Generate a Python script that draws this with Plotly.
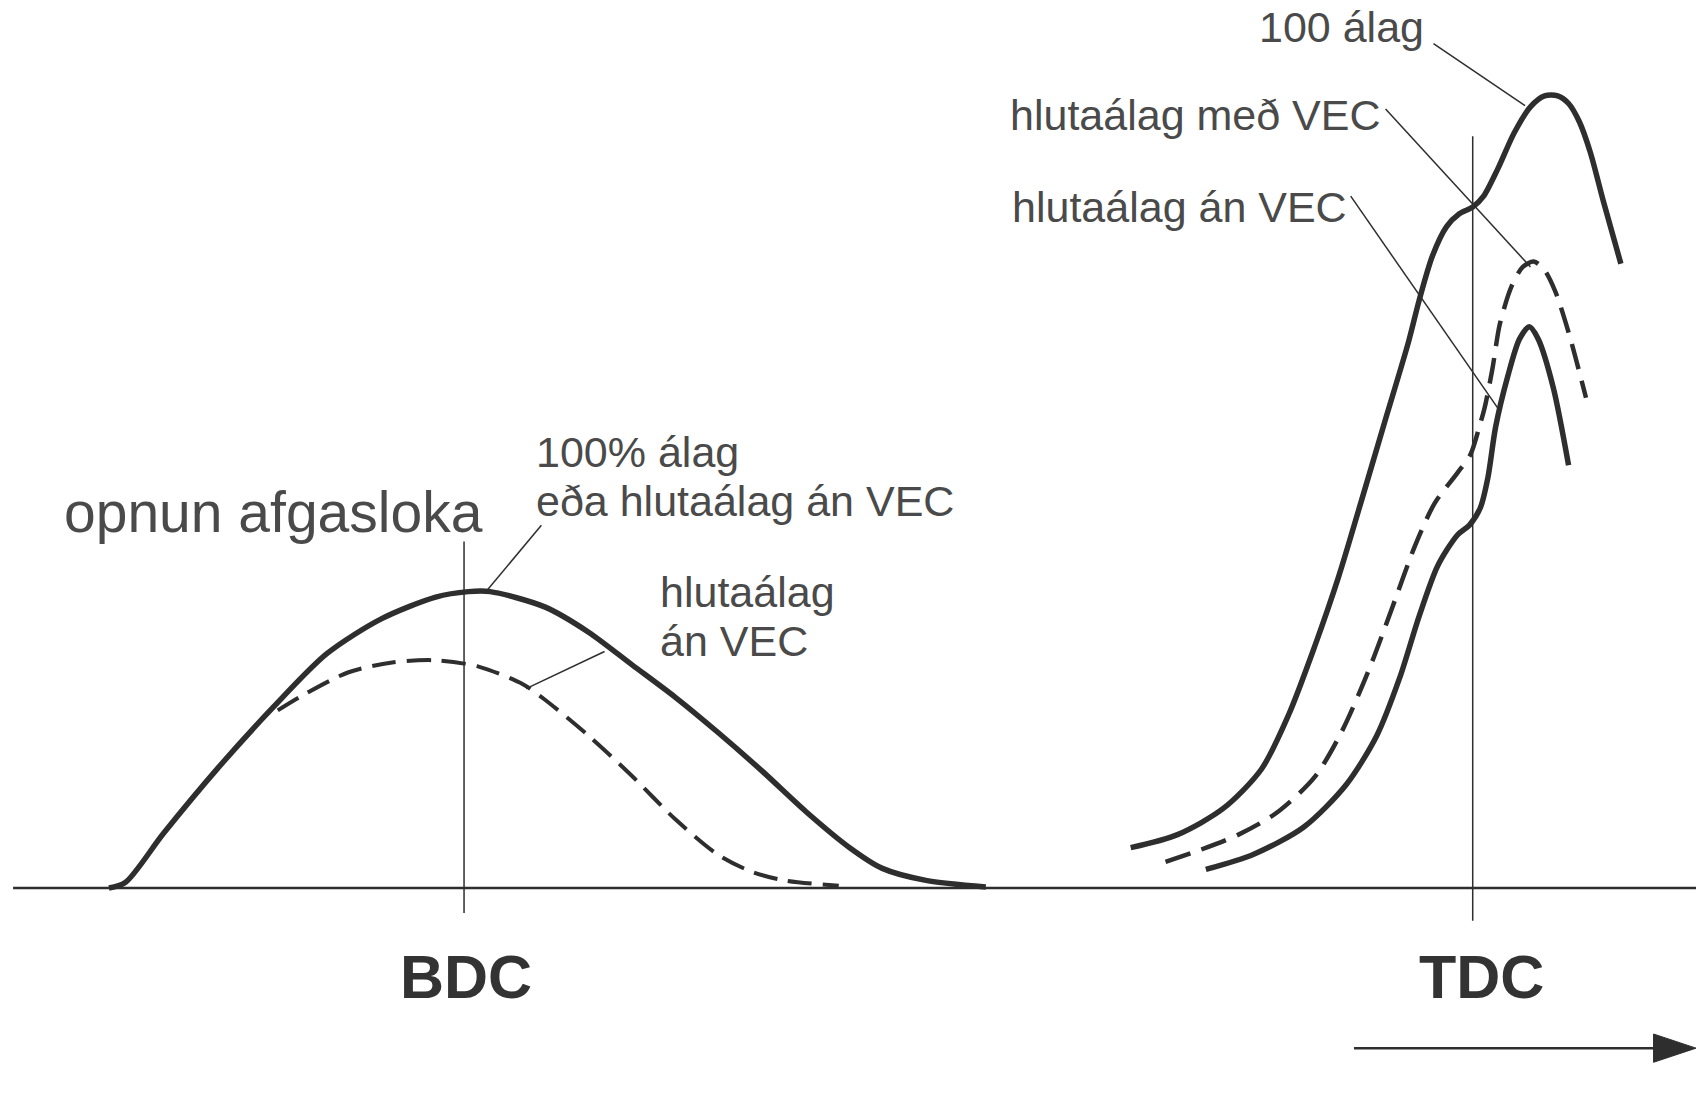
import plotly.graph_objects as go

# ---- data (x = crank position, lift = valve lift, arbitrary units) ----
bdc_full_x = [100, 115, 150, 200, 250, 300, 350, 400, 430, 450, 500, 540, 580, 620, 660, 700, 740, 780, 810, 850, 905]
bdc_full_lift = [0, 5, 50, 110, 165, 215, 247, 267, 272, 272, 258, 235, 205, 175, 142, 107, 70, 37, 18, 7, 1]

bdc_part_x = [255, 280, 320, 360, 400, 440, 480, 500, 540, 580, 620, 660, 690, 720, 770]
bdc_part_lift = [163, 178, 198, 207, 209, 203, 187, 173, 140, 103, 63, 30, 15, 7, 2]

tdc_full_x = [1038, 1081, 1123, 1158, 1183, 1207, 1229, 1250, 1271, 1293, 1303, 1315, 1328, 1340, 1352,
              1362, 1375, 1390, 1405, 1418, 1430, 1440, 1450, 1460, 1472, 1488]
tdc_full_lift = [37, 49, 73, 109, 159, 222, 286, 356, 427, 501, 540, 580, 607, 619, 625,
                 635, 660, 693, 717, 727, 727, 720, 703, 675, 630, 573]

tdc_vec_x = [1070, 1102, 1137, 1172, 1207, 1232, 1257, 1278, 1299, 1317, 1338, 1350, 1358, 1363, 1370,
             1377, 1388, 1398, 1408, 1418, 1428, 1440, 1456]
tdc_vec_lift = [24, 35, 49, 69, 102, 144, 201, 257, 314, 353, 381, 398, 423, 441, 476,
                518, 553, 570, 575, 567, 547, 510, 450]

tdc_novec_x = [1107, 1151, 1197, 1236, 1264, 1285, 1303, 1320, 1338, 1349, 1359, 1366, 1373, 1384,
               1395, 1404, 1412, 1426, 1440]
tdc_novec_lift = [17, 31, 56, 95, 140, 193, 250, 296, 324, 333, 349, 377, 423, 469,
                  504, 515, 504, 459, 388]

markers_x = [426, 1352]
marker_labels = ["BDC", "TDC"]

INK = "#2e2e2e"
TXT = "#4a4a4a"

fig = go.Figure()

def curve(x, y, dash="solid", w=5.5):
    fig.add_trace(go.Scatter(x=x, y=y, mode="lines",
                             line=dict(color=INK, width=w, dash=dash, shape="spline", smoothing=0.8),
                             hoverinfo="skip", showlegend=False))

curve(bdc_part_x, bdc_part_lift, dash="24px,11px", w=4)
curve(bdc_full_x, bdc_full_lift)
curve(tdc_full_x, tdc_full_lift)
curve(tdc_vec_x, tdc_vec_lift, dash="26px,12px", w=4.5)
curve(tdc_novec_x, tdc_novec_lift)

shapes = []
# baseline
shapes.append(dict(type="line", x0=12, x1=1557, y0=0, y1=0, line=dict(color=INK, width=2.5)))
# BDC / TDC verticals
shapes.append(dict(type="line", x0=markers_x[0], x1=markers_x[0], y0=-23, y1=318, line=dict(color=INK, width=1.5)))
shapes.append(dict(type="line", x0=markers_x[1], x1=markers_x[1], y0=-30, y1=690, line=dict(color=INK, width=1.5)))
# leader lines
leaders = [((1316, 775), (1400, 718)),
           ((1272, 715), (1405, 570)),
           ((1240, 635), (1376, 439)),
           ((497, 333), (447, 273)),
           ((555, 217), (483, 183))]
for (a, b) in leaders:
    shapes.append(dict(type="line", x0=a[0], y0=a[1], x1=b[0], y1=b[1], line=dict(color=INK, width=1.5)))
# crank-angle arrow
shapes.append(dict(type="line", x0=1243, x1=1522, y0=-147, y1=-147, line=dict(color=INK, width=2.5)))
shapes.append(dict(type="path", path="M 1518,-134 L 1518,-160 L 1557,-147 Z",
                   fillcolor=INK, line=dict(color=INK, width=1)))

FONT = "Liberation Sans, Arial, sans-serif"
ann = []
def label(text, x, y, xanchor="left", size=43, color=TXT, bold=False):
    t = f"<b>{text}</b>" if bold else text
    ann.append(dict(text=t, x=x, y=y, xref="x", yref="y", xanchor=xanchor, yanchor="middle",
                    showarrow=False, font=dict(family=FONT, size=size, color=color)))

label("opnun afgasloka", 57, 815 - 470, size=57)
label("100% álag", 490, 815 - 415)
label("eða hlutaálag án VEC", 490, 815 - 460)
label("hlutaálag", 604, 815 - 543)
label("án VEC", 604, 815 - 588)
label("100 álag", 1309, 815 - 25, xanchor="right")
label("hlutaálag með VEC", 925, 815 - 106)
label("hlutaálag án VEC", 927, 815 - 190)
label(marker_labels[0], markers_x[0] + 2, 815 - 897, xanchor="center", size=61, color="#333", bold=True)
label(marker_labels[1], markers_x[1] + 8, 815 - 897, xanchor="center", size=61, color="#333", bold=True)

fig.update_layout(
    width=1708, height=1095, autosize=False,
    margin=dict(l=0, r=0, t=0, b=0),
    paper_bgcolor="white", plot_bgcolor="white",
    xaxis=dict(range=[0, 1568], visible=False, fixedrange=True),
    yaxis=dict(range=[815 - 1005, 815], visible=False, fixedrange=True),
    shapes=shapes, annotations=ann, showlegend=False,
)

fig.write_html("out.html", config={"displayModeBar": False},
               post_script="document.body.style.margin='0px';document.body.style.overflow='hidden';")
